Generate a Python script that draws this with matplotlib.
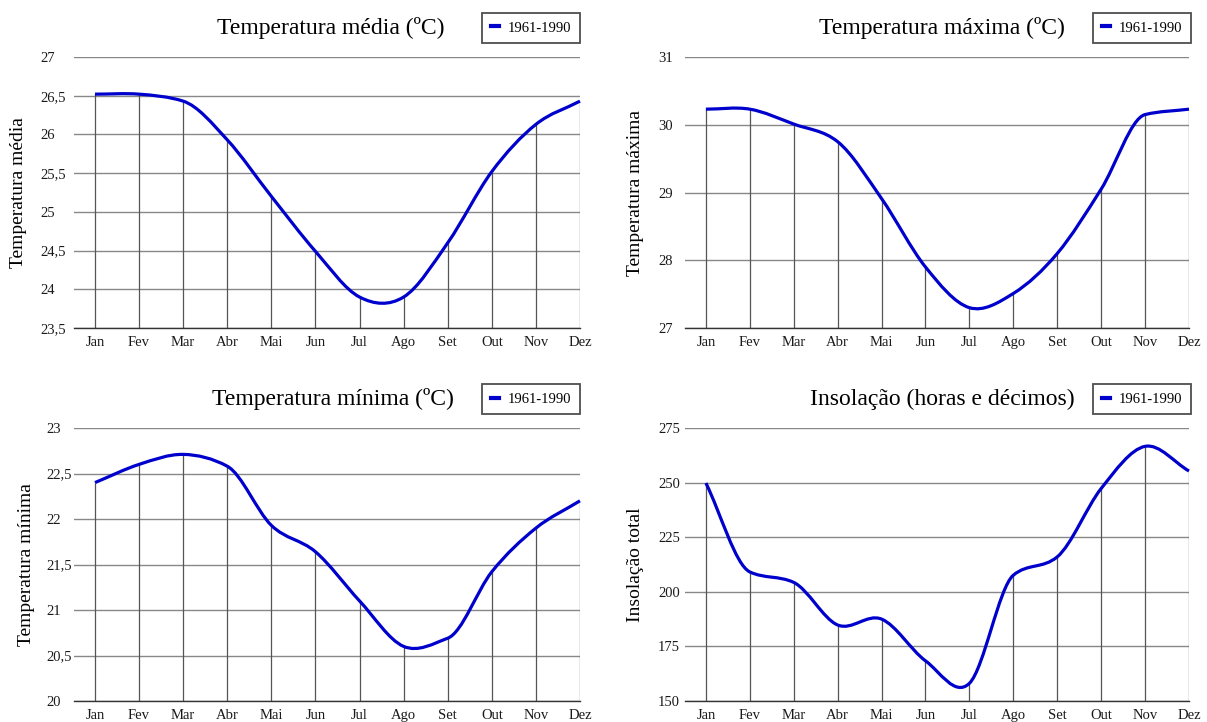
import matplotlib
matplotlib.use('Agg')
import matplotlib.pyplot as plt
from matplotlib.path import Path
from matplotlib.patches import PathPatch
from matplotlib.ticker import FuncFormatter

plt.rcParams['font.family'] = ['Liberation Serif', 'DejaVu Serif']

MONTHS = ["Jan", "Fev", "Mar", "Abr", "Mai", "Jun", "Jul", "Ago", "Set", "Out", "Nov", "Dez"]
SERIES_LABEL = "1961-1990"

t_media = [26.52, 26.52, 26.43, 25.93, 25.2, 24.49, 23.9, 23.9, 24.6, 25.52, 26.13, 26.43]
t_maxima = [30.23, 30.23, 30.01, 29.75, 28.91, 27.9, 27.3, 27.51, 28.1, 29.05, 30.15, 30.23]
t_minima = [22.4, 22.6, 22.71, 22.58, 21.93, 21.64, 21.1, 20.6, 20.69, 21.42, 21.9, 22.2]
insolacao = [249.8, 209.1, 204.3, 184.8, 187.5, 168.4, 158.1, 207.6, 216.0, 247.3, 266.6, 255.3]

BLUE = "#0000cc"
LIMIT = 2.0  # tangent limiter, keeps flat stretches from overshooting

panels = [
    # values, title, ylabel, yticks, axes rect (px), title x, ylabel x, legend x, ytick pad
    (t_media, "Temperatura média (ºC)", "Temperatura média",
     [23.5, 24, 24.5, 25, 25.5, 26, 26.5, 27], [74, 57, 580, 328], 331, 19, 531, 24.5),
    (t_maxima, "Temperatura máxima (ºC)", "Temperatura máxima",
     [27, 28, 29, 30, 31], [685, 57, 1189, 328], 942, 636, 1142, 19.4),
    (t_minima, "Temperatura mínima (ºC)", "Temperatura mínima",
     [20, 20.5, 21, 21.5, 22, 22.5, 23], [74, 428, 580, 701], 333, 27, 531, 20.2),
    (insolacao, "Insolação (horas e décimos)", "Insolação total",
     [150, 175, 200, 225, 250, 275], [685, 428, 1189, 701], 942, 636, 1142, 19.4),
]

W, H = 1207, 722
fig = plt.figure(figsize=(W / 100, H / 100), dpi=100)


def fmt(v, pos):
    return f"{v:g}".replace(".", ",")


def smooth_path(xs, ys):
    # cubic Hermite through the points, Catmull-Rom tangents with a limiter
    n = len(xs)
    s = [(ys[i + 1] - ys[i]) / (xs[i + 1] - xs[i]) for i in range(n - 1)]
    m = []
    for i in range(n):
        if i == 0:
            m.append(s[0])
        elif i == n - 1:
            m.append(s[-1])
        else:
            t = (s[i - 1] + s[i]) / 2
            if s[i - 1] * s[i] > 0:
                lim = LIMIT * min(abs(s[i - 1]), abs(s[i]))
                if abs(t) > lim:
                    t = lim if t > 0 else -lim
            m.append(t)
    verts = [(xs[0], ys[0])]
    codes = [Path.MOVETO]
    for i in range(n - 1):
        h = (xs[i + 1] - xs[i]) / 3
        verts += [(xs[i] + h, ys[i] + m[i] * h),
                  (xs[i + 1] - h, ys[i + 1] - m[i + 1] * h),
                  (xs[i + 1], ys[i + 1])]
        codes += [Path.CURVE4] * 3
    return Path(verts, codes)


for vals, title, ylab, yticks, rect, tx, lx, legx, pad in panels:
    x0, y0, x1, y1 = rect
    ax = fig.add_axes([x0 / W, 1 - y1 / H, (x1 - x0) / W, (y1 - y0) / H])
    xs = list(range(len(MONTHS)))
    ymin, ymax = yticks[0], yticks[-1]

    ax.set_xlim(-0.476, len(MONTHS) - 1)
    ax.set_ylim(ymin, ymax)
    ax.set_yticks(yticks)
    ax.yaxis.set_major_formatter(FuncFormatter(fmt))
    ax.set_xticks(xs)
    ax.set_xticklabels(MONTHS)
    ax.tick_params(axis='both', length=0, labelsize=10.5, colors='#1a1a1a')
    ax.tick_params(axis='x', pad=6)
    ax.tick_params(axis='y', pad=pad)
    for lab in ax.get_yticklabels():
        lab.set_horizontalalignment('left')

    for sp in ['top', 'right', 'left']:
        ax.spines[sp].set_visible(False)
    ax.spines['bottom'].set_color('#333333')
    ax.spines['bottom'].set_linewidth(1.0)

    ax.grid(axis='y', color='#888888', linewidth=1.0)
    ax.set_axisbelow(True)

    # drop lines from axis to each point
    ax.vlines(xs, ymin, vals, colors='#555555', linewidth=0.9, zorder=2)

    ax.add_patch(PathPatch(smooth_path(xs, vals), facecolor='none', edgecolor=BLUE,
                           linewidth=2.3, zorder=3, clip_on=False))
    ax.plot([], [], color=BLUE, linewidth=3, label=SERIES_LABEL)

    ty = 28 if y0 < 100 else 399
    fig.text(tx / W, 1 - ty / H, title, ha='center', va='center', fontsize=17)
    fig.text(lx / W, 1 - ((y0 + y1) / 2) / H, ylab, ha='center', va='center',
             rotation=90, fontsize=14)

    leg = ax.legend(loc='center', bbox_to_anchor=(legx / W, 1 - ty / H),
                    bbox_transform=fig.transFigure, fontsize=10.5, frameon=True,
                    fancybox=False, handlelength=0.6, handletextpad=0.6,
                    borderpad=0.55, borderaxespad=0)
    leg.get_frame().set_edgecolor('#222222')
    leg.get_frame().set_linewidth(1.3)

plt.savefig("out.png", dpi=100)
